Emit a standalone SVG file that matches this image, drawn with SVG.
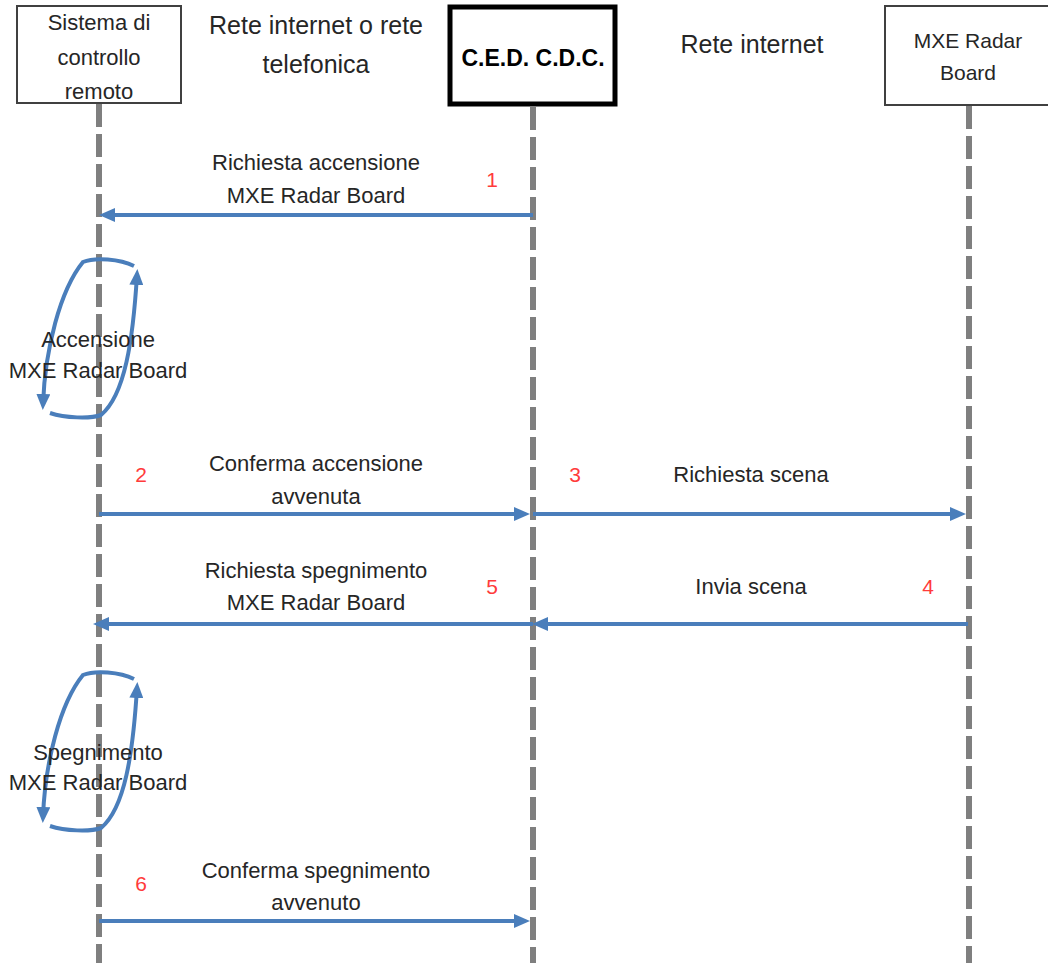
<svg xmlns="http://www.w3.org/2000/svg" width="1048" height="963" viewBox="0 0 1048 963">
  <style>
    text { font-family: "Liberation Sans", Arial, sans-serif; fill: #262626; text-anchor: middle; }
    .box { fill: #ffffff; stroke: #404040; stroke-width: 2; }
    .boxBold { fill: #ffffff; stroke: #000000; stroke-width: 5; }
    .life { stroke: #7f7f7f; stroke-width: 6; stroke-dasharray: 23 7; fill: none; }
    .msg { stroke: #4a7ebb; stroke-width: 4; fill: none; marker-end: url(#head); }
    .loop { stroke: #4a7ebb; stroke-width: 4; fill: none; marker-end: url(#head); }
    .lbl { font-size: 22px; }
    .title { font-size: 25px; }
    .num { font-size: 21px; fill: #ff3b3b; }
  </style>
  <defs>
    <marker id="head" markerUnits="userSpaceOnUse" viewBox="0 0 16 14" markerWidth="16" markerHeight="14" refX="10" refY="7" orient="auto">
      <path d="M0,0 L16,7 L0,14 z" fill="#4a7ebb"/>
    </marker>
  </defs>

  <!-- lifelines -->
  <g id="lifelines">
    <line class="life" x1="99" y1="104" x2="99" y2="963"/>
    <line class="life" x1="533" y1="107" x2="533" y2="963"/>
    <line class="life" x1="969" y1="106" x2="969" y2="963"/>
  </g>

  <!-- participants -->
  <g id="remote-control">
    <rect class="box" x="17" y="6" width="164" height="97"/>
    <text class="lbl" x="99" y="30">Sistema di</text>
    <text class="lbl" x="99" y="65">controllo</text>
    <text class="lbl" x="99" y="99">remoto</text>
  </g>
  <g id="network-phone">
    <text class="title" x="316" y="34">Rete internet o rete</text>
    <text class="title" x="316" y="73">telefonica</text>
  </g>
  <g id="ced-cdc">
    <rect class="boxBold" x="450" y="7" width="165" height="97"/>
    <text x="533" y="66" style="font-size:23px;font-weight:bold;fill:#000">C.E.D. C.D.C.</text>
  </g>
  <g id="network">
    <text class="title" x="752" y="53">Rete internet</text>
  </g>
  <g id="radar-board">
    <rect class="box" x="885" y="6" width="170" height="99"/>
    <text x="968" y="48" style="font-size:21px">MXE Radar</text>
    <text x="968" y="80" style="font-size:21px">Board</text>
  </g>

  <!-- messages and self-loops -->
  <g id="connectors">
    <line class="msg" x1="533" y1="215" x2="105" y2="215"/>
    <path class="loop" d="M134,266 C120,259 95,257 83,262 C60,290 45,350 43,404"/>
    <path class="loop" d="M50,413 C65,418 90,419 101,415 C125,395 133,340 137,275"/>
    <line class="msg" x1="99" y1="514" x2="524" y2="514"/>
    <line class="msg" x1="533" y1="514" x2="960" y2="514"/>
    <line class="msg" x1="968" y1="624" x2="538" y2="624"/>
    <line class="msg" x1="533" y1="624" x2="99" y2="624"/>
    <path class="loop" d="M134,679 C120,672 95,670 83,675 C60,703 45,763 43,817"/>
    <path class="loop" d="M50,826 C65,831 90,832 101,828 C125,808 133,753 137,688"/>
    <line class="msg" x1="99" y1="921" x2="524" y2="921"/>
  </g>

  <!-- labels -->
  <g id="labels">
    <text class="lbl" x="316" y="170">Richiesta accensione</text>
    <text class="lbl" x="316" y="203">MXE Radar Board</text>
    <text class="num" x="492" y="187">1</text>

    <text class="lbl" x="98" y="347">Accensione</text>
    <text class="lbl" x="98" y="378">MXE Radar Board</text>

    <text class="lbl" x="316" y="471">Conferma accensione</text>
    <text class="lbl" x="316" y="504">avvenuta</text>
    <text class="num" x="141" y="482">2</text>

    <text class="num" x="575" y="482">3</text>
    <text class="lbl" x="751" y="482">Richiesta scena</text>

    <text class="lbl" x="751" y="594">Invia scena</text>
    <text class="num" x="928" y="594">4</text>

    <text class="lbl" x="316" y="578">Richiesta spegnimento</text>
    <text class="lbl" x="316" y="610">MXE Radar Board</text>
    <text class="num" x="492" y="594">5</text>

    <text class="lbl" x="98" y="760">Spegnimento</text>
    <text class="lbl" x="98" y="790">MXE Radar Board</text>

    <text class="lbl" x="316" y="878">Conferma spegnimento</text>
    <text class="lbl" x="316" y="910">avvenuto</text>
    <text class="num" x="141" y="891">6</text>
  </g>
</svg>
